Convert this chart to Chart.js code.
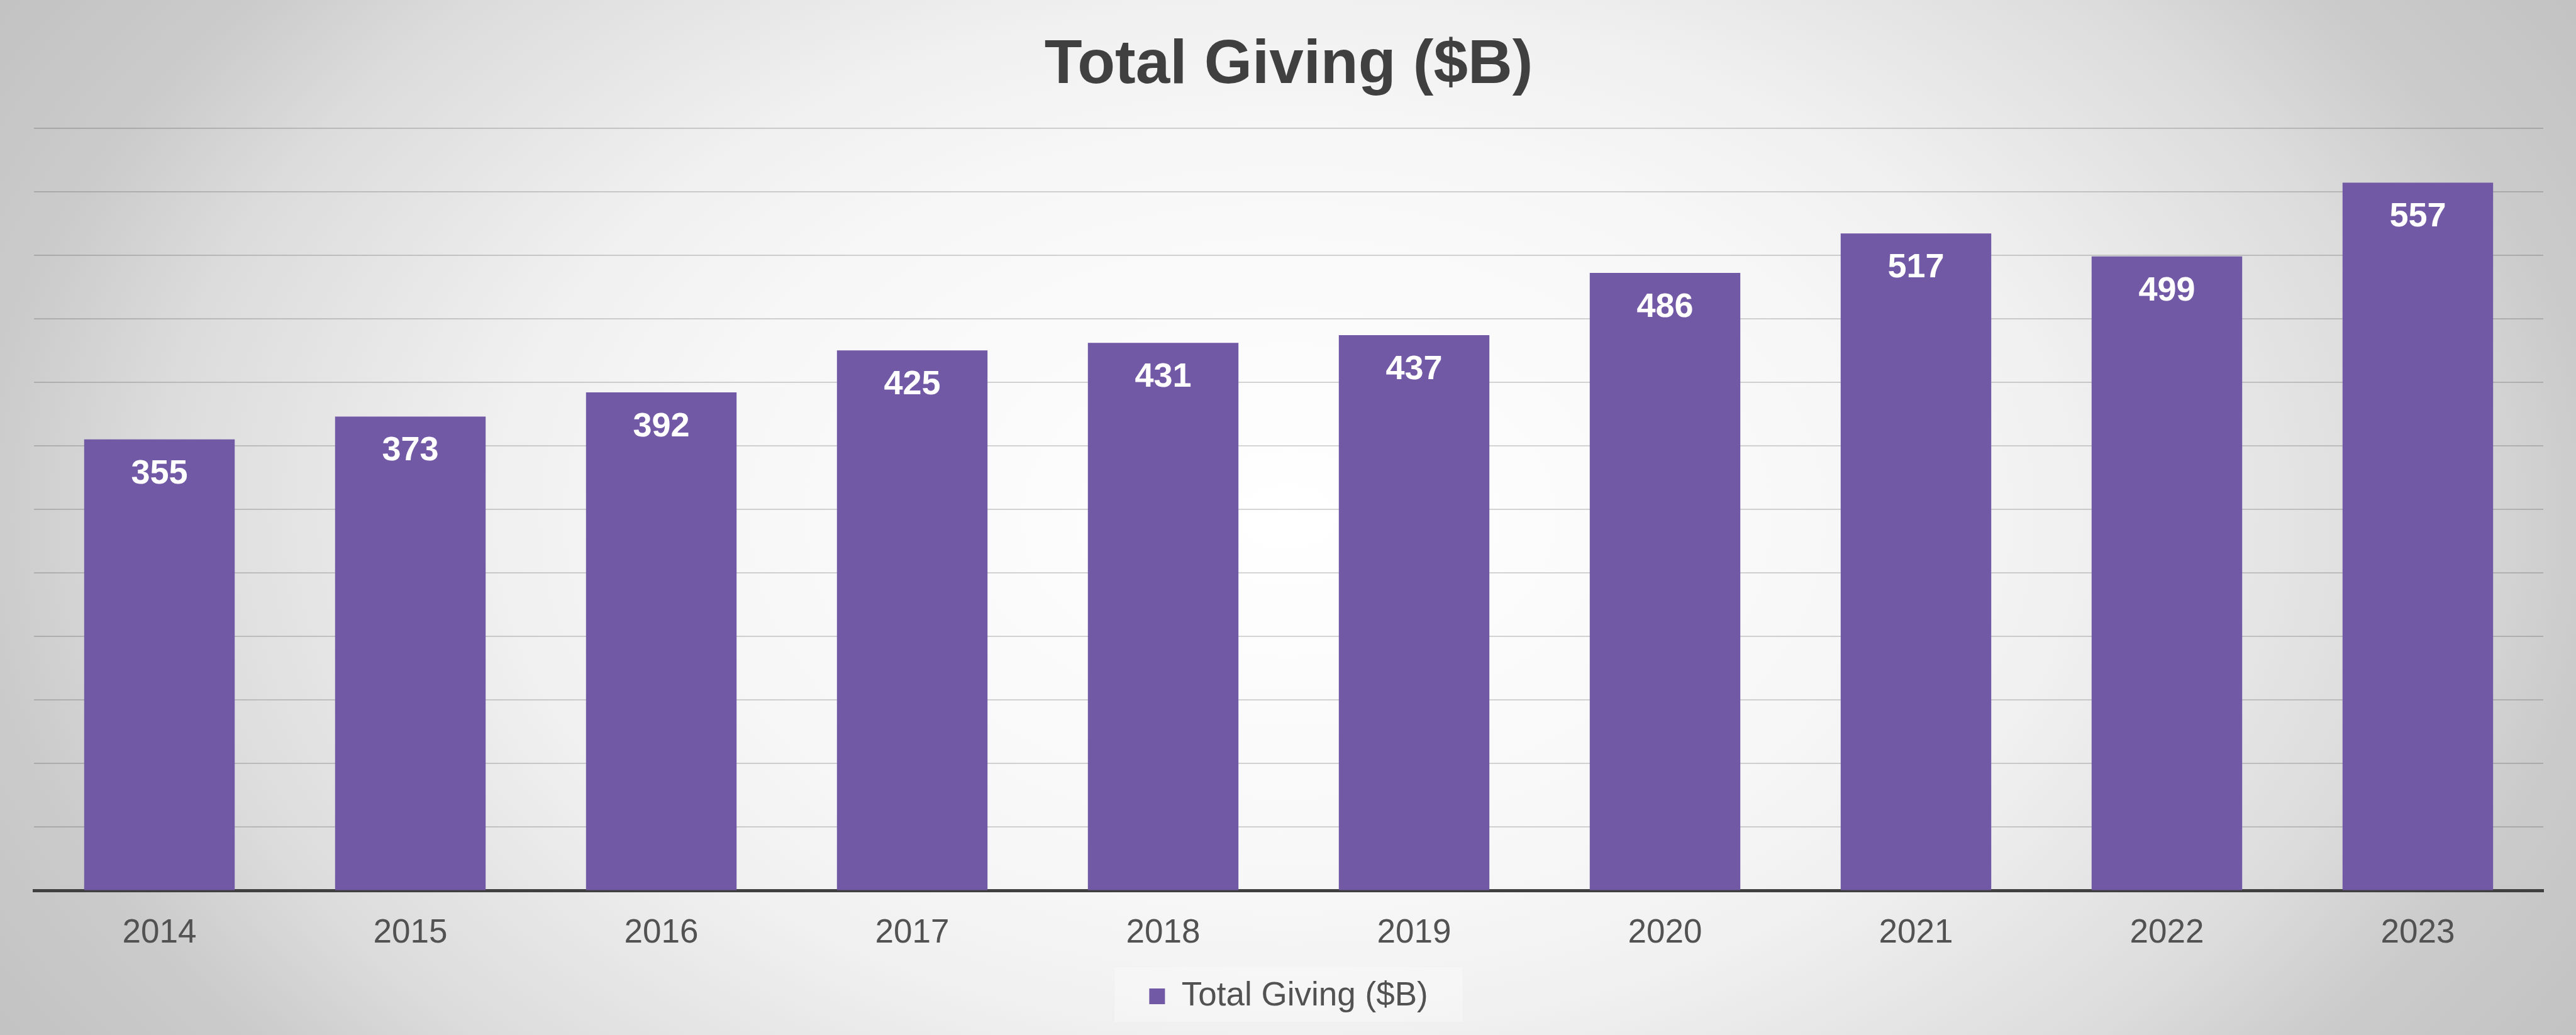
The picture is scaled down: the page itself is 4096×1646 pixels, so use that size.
<!DOCTYPE html>
<html>
<head>
<meta charset="utf-8">
<title>Total Giving ($B)</title>
<script src="https://cdn.jsdelivr.net/npm/chart.js@4.4.1/dist/chart.umd.min.js"></script>
<style>
  html, body {
    margin: 0;
    padding: 0;
    width: 4096px;
    height: 1646px;
    overflow: hidden;
  }
  body {
    background: radial-gradient(ellipse 2300px 1500px at 50% 50%,
      #ffffff 0%, #f7f7f7 40%, #f0f0f0 55%, #dcdcdc 78%, #cbcbcb 90%, #c2c2c2 105%);
  }
  #chart {
    display: block;
  }
</style>
</head>
<body>
<canvas id="chart" width="4096" height="1646"></canvas>
<script>
const years = ['2014', '2015', '2016', '2017', '2018', '2019', '2020', '2021', '2022', '2023'];
const totalGiving = [355, 373, 392, 425, 431, 437, 486, 517, 499, 557];
const seriesName = 'Total Giving ($B)';

const barColor = '#7259a5';
const textGray = '#525252';

// value labels inside the top of each bar
const barValueLabels = {
    id: 'barValueLabels',
    afterDatasetsDraw(chart) {
        const ctx = chart.ctx;
        const meta = chart.getDatasetMeta(0);
        const values = chart.data.datasets[0].data;
        ctx.save();
        ctx.fillStyle = '#ffffff';
        ctx.font = 'bold 54px "Liberation Sans", Arial, sans-serif';
        ctx.textAlign = 'center';
        ctx.textBaseline = 'middle';
        meta.data.forEach((bar, i) => {
            ctx.fillText(String(values[i]), bar.x, bar.y + 55);
        });
        ctx.restore();
    }
};

// faint light panel behind the legend
const legendPanel = {
    id: 'legendPanel',
    beforeDraw(chart) {
        const boxes = chart.legend && chart.legend.legendHitBoxes;
        if (!boxes || !boxes.length) return;
        const hb = boxes[0];
        const ctx = chart.ctx;
        ctx.save();
        ctx.fillStyle = 'rgba(255,255,255,0.3)';
        ctx.fillRect(hb.left - 55, hb.top - 20, hb.width + 110, hb.height + 34);
        ctx.restore();
    }
};

const ctx = document.getElementById('chart').getContext('2d');
new Chart(ctx, {
    type: 'bar',
    data: {
        labels: years,
        datasets: [{
            label: seriesName,
            data: totalGiving,
            backgroundColor: barColor,
            borderWidth: 0,
            categoryPercentage: 1,
            barPercentage: 0.6
        }]
    },
    options: {
        responsive: false,
        animation: false,
        devicePixelRatio: 1,
        layout: {
            padding: { top: 46, left: 54, right: 52, bottom: 25 }
        },
        scales: {
            x: {
                grid: { display: false, drawTicks: false },
                border: { display: true, color: '#404040', width: 5 },
                ticks: {
                    color: textGray,
                    padding: 36,
                    font: { family: '"Liberation Sans", Arial, sans-serif', size: 53 }
                }
            },
            y: {
                min: 0,
                max: 600,
                ticks: { display: false, stepSize: 50 },
                grid: { color: 'rgba(0,0,0,0.16)', lineWidth: 2, drawTicks: false },
                border: { display: false }
            }
        },
        plugins: {
            title: {
                display: true,
                text: seriesName,
                color: '#404040',
                padding: { top: 0, bottom: 40 },
                font: { family: '"Liberation Sans", Arial, sans-serif', size: 98, weight: 'bold' }
            },
            legend: {
                display: true,
                position: 'bottom',
                labels: {
                    color: textGray,
                    boxWidth: 25,
                    boxHeight: 25,
                    padding: 6,
                    font: { family: '"Liberation Sans", Arial, sans-serif', size: 53 }
                }
            },
            tooltip: { enabled: false }
        }
    },
    plugins: [legendPanel, barValueLabels]
});
</script>
</body>
</html>
